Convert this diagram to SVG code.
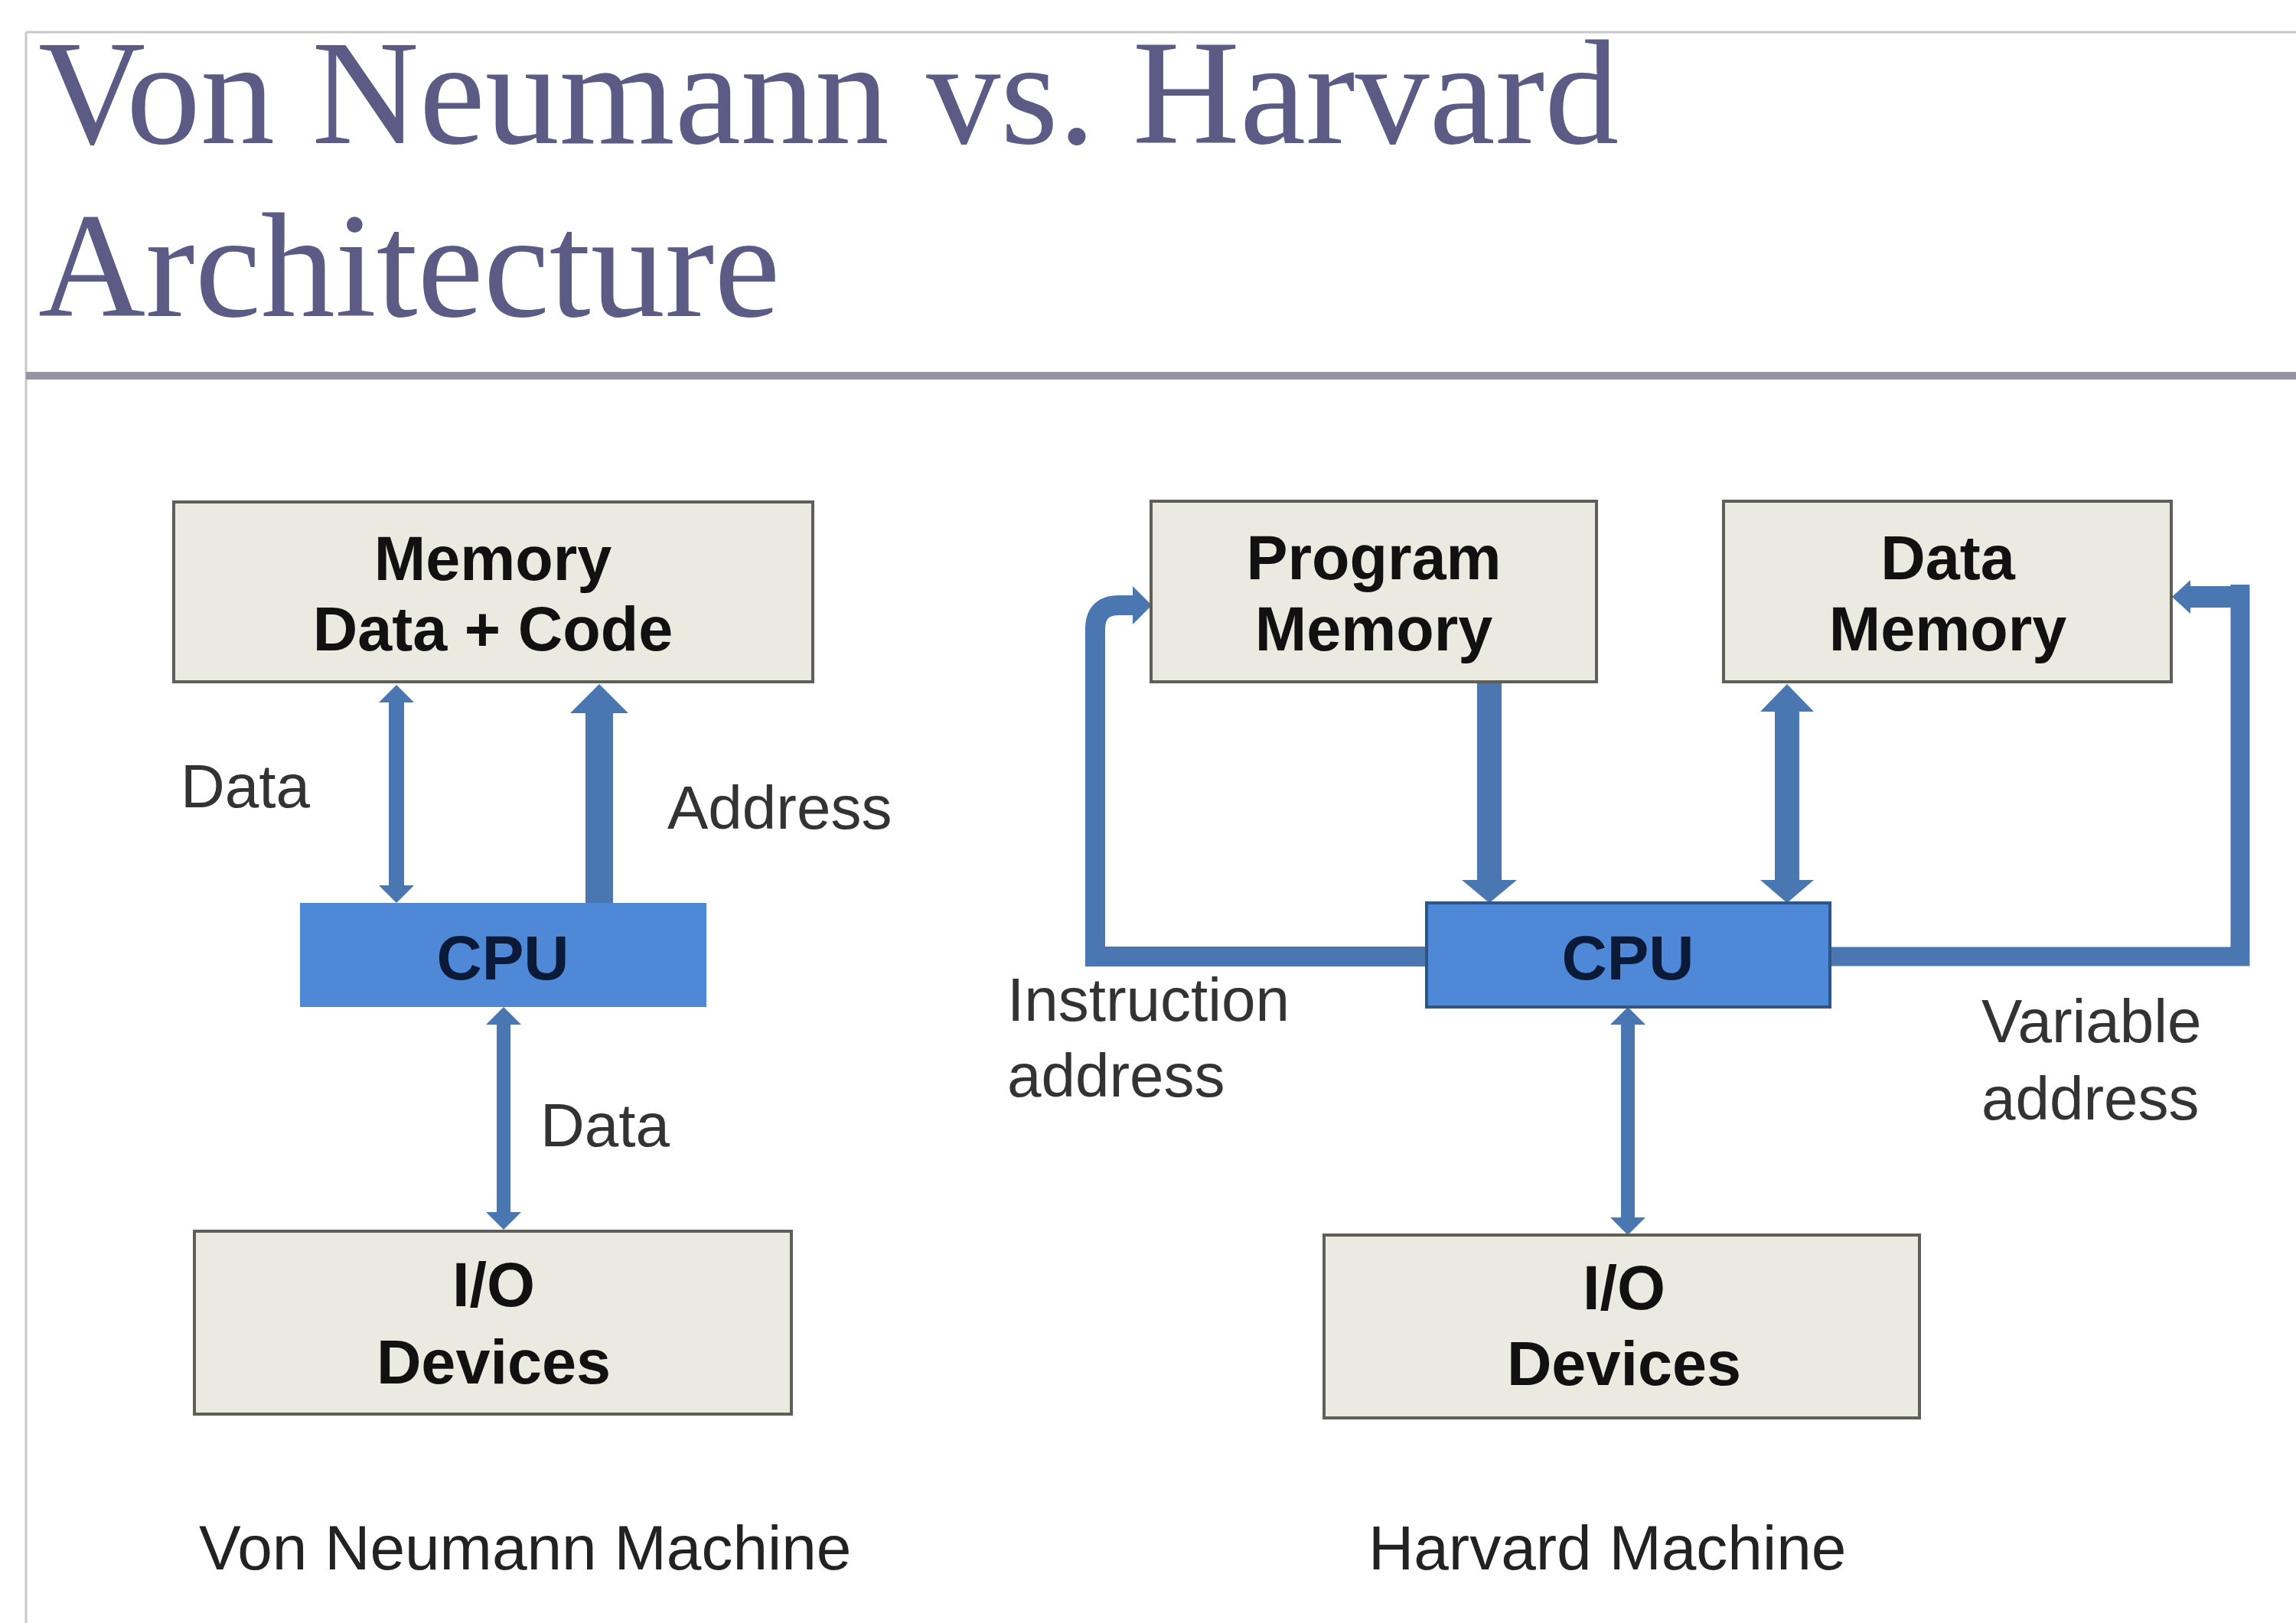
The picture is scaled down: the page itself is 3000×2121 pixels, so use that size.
<svg xmlns="http://www.w3.org/2000/svg" width="3000" height="2121" viewBox="0 0 3000 2121">
<style>
.title{font-family:"Liberation Serif","Times New Roman",serif;font-size:194px;fill:#5b5b86}
.box{fill:#ebeae1;stroke:#5f5f5a;stroke-width:4}
.cpu{fill:#4f88d6}
.cpu2{fill:#4f88d6;stroke:#2f5585;stroke-width:4}
.bt{font-family:"Liberation Sans",Arial,sans-serif;font-weight:bold;font-size:81px;fill:#111;text-anchor:middle}
.ct{font-family:"Liberation Sans",Arial,sans-serif;font-weight:bold;font-size:82px;fill:#0b1a38;text-anchor:middle}
.lb{font-family:"Liberation Sans",Arial,sans-serif;font-size:80px;fill:#333}
.cap{font-family:"Liberation Sans",Arial,sans-serif;font-size:82px;fill:#222}
.sh{fill:none;stroke:#4a76b2}
.ah{fill:#4a76b2}
</style>
<rect x="0" y="0" width="3000" height="2121" fill="#ffffff"/>
<line x1="34" y1="42" x2="3000" y2="42" stroke="#c8c8c8" stroke-width="3"/>
<line x1="34" y1="42" x2="34" y2="2121" stroke="#c8c8c8" stroke-width="3"/>
<rect x="34" y="486" width="2966" height="10" fill="#9494a4"/>
<g id="title">
<text class="title" x="50" y="187">Von Neumann vs. Harvard</text>
<text class="title" x="50" y="413">Architecture</text>
</g>

<g id="connectors">
<line class="sh" x1="518" y1="915" x2="518" y2="1160" stroke-width="20"/>
<polygon class="ah" points="518,895 541,918 495,918"/>
<polygon class="ah" points="518,1180 541,1157 495,1157"/>
<line class="sh" x1="783" y1="930" x2="783" y2="1180" stroke-width="36"/>
<polygon class="ah" points="783,894 821,932 745,932"/>
<line class="sh" x1="658" y1="1336" x2="658" y2="1588" stroke-width="18"/>
<polygon class="ah" points="658,1316 681,1339 635,1339"/>
<polygon class="ah" points="658,1607 681,1584 635,1584"/>

<line class="sh" x1="1946" y1="893" x2="1946" y2="1152" stroke-width="32"/>
<polygon class="ah" points="1946,1180 1982,1150 1910,1150"/>
<line class="sh" x1="2335" y1="928" x2="2335" y2="1152" stroke-width="32"/>
<polygon class="ah" points="2335,894 2370,930 2300,930"/>
<polygon class="ah" points="2335,1180 2370,1150 2300,1150"/>
<path class="sh" d="M1866,1250 H1431 V822 Q1431,791 1462,791 H1482" stroke-width="26"/>
<polygon class="ah" points="1505,791 1480,766 1480,816"/>
<path class="sh" d="M2390,1250 H2927 V764" stroke-width="25"/>
<line class="sh" x1="2939" y1="780" x2="2858" y2="780" stroke-width="28"/>
<polygon class="ah" points="2838,780 2862,758 2862,802"/>
<line class="sh" x1="2127" y1="1336" x2="2127" y2="1595" stroke-width="18"/>
<polygon class="ah" points="2127,1316 2150,1339 2104,1339"/>
<polygon class="ah" points="2127,1614 2150,1591 2104,1591"/>
</g>

<g id="vn-memory">
<rect class="box" x="227" y="656" width="835" height="235"/>
<text class="bt" x="644" y="758">Memory</text>
<text class="bt" x="644" y="850">Data + Code</text>
</g>
<g id="vn-cpu">
<rect class="cpu" x="392" y="1180" width="531" height="136"/>
<text class="ct" x="657" y="1280">CPU</text>
</g>
<g id="vn-io">
<rect class="box" x="254" y="1609" width="780" height="239"/>
<text class="bt" x="645" y="1707">I/O</text>
<text class="bt" x="645" y="1808">Devices</text>
</g>

<g id="hv-program-memory">
<rect class="box" x="1504" y="655" width="582" height="236"/>
<text class="bt" x="1795" y="757">Program</text>
<text class="bt" x="1795" y="850">Memory</text>
</g>
<g id="hv-data-memory">
<rect class="box" x="2252" y="655" width="585" height="236"/>
<text class="bt" x="2545" y="757">Data</text>
<text class="bt" x="2545" y="850">Memory</text>
</g>
<g id="hv-cpu">
<rect class="cpu2" x="1864" y="1180" width="527" height="136"/>
<text class="ct" x="2127" y="1280">CPU</text>
</g>
<g id="hv-io">
<rect class="box" x="1730" y="1614" width="778" height="239"/>
<text class="bt" x="2122" y="1711">I/O</text>
<text class="bt" x="2122" y="1810">Devices</text>
</g>

<g id="labels">
<text class="lb" x="236" y="1055">Data</text>
<text class="lb" x="872" y="1083">Address</text>
<text class="lb" x="706" y="1498">Data</text>
<text class="lb" x="1316" y="1334">Instruction</text>
<text class="lb" x="1316" y="1433">address</text>
<text class="lb" x="2589" y="1362">Variable</text>
<text class="lb" x="2589" y="1463">address</text>
<text class="cap" x="260" y="2051">Von Neumann Machine</text>
<text class="cap" x="1788" y="2051">Harvard Machine</text>
</g>
</svg>
